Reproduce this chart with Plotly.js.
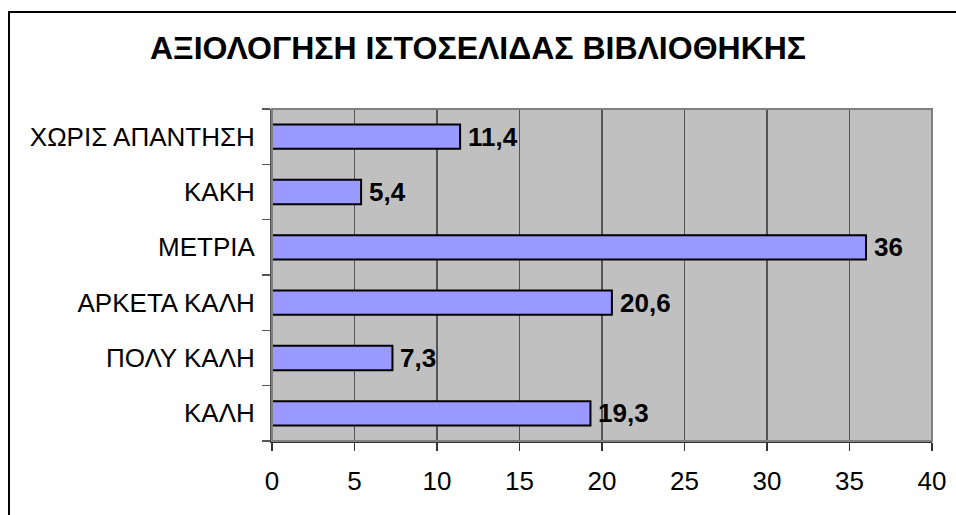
<!DOCTYPE html>
<html>
<head>
<meta charset="utf-8">
<script src="https://cdn.plot.ly/plotly-3.0.1.min.js"></script>
<style>
  html, body { margin: 0; padding: 0; background: #fff; overflow: hidden; }
  #chart { width: 956px; height: 515px; }
  /* outer frame of the original chart object */
  #frame { position: absolute; left: 8px; top: 11px; width: 1000px; height: 600px;
           border: 2px solid #000; pointer-events: none; }
</style>
</head>
<body>
<div id="chart"></div>
<div id="frame"></div>
<script>
// categories bottom -> top
const categories = ['ΚΑΛΗ', 'ΠΟΛΥ ΚΑΛΗ', 'ΑΡΚΕΤΑ ΚΑΛΗ', 'ΜΕΤΡΙΑ', 'ΚΑΚΗ', 'ΧΩΡΙΣ ΑΠΑΝΤΗΣΗ'];
const values = [19.3, 7.3, 20.6, 36, 5.4, 11.4];
const xTicks = [0, 5, 10, 15, 20, 25, 30, 35, 40];

const font = 'Liberation Sans, Arial, sans-serif';

const bars = {
    type: 'bar',
    orientation: 'h',
    x: values,
    y: categories,
    marker: { color: '#9999ff', line: { color: '#000', width: 2 } },
    width: 0.44,
    hoverinfo: 'none'
};

// value labels, Greek decimal comma
const labels = values.map((v, i) => ({
    x: v, y: categories[i], xref: 'x', yref: 'y',
    text: '<b>' + String(v).replace('.', ',') + '</b>',
    showarrow: false, xanchor: 'left', xshift: 6,
    font: { family: font, size: 26, color: '#000' }
}));

const layout = {
    width: 956, height: 515,
    margin: { l: 272, r: 24, t: 109, b: 74 },
    paper_bgcolor: '#fff',
    plot_bgcolor: '#c0c0c0',
    showlegend: false,
    title: {
        text: '<b>ΑΞΙΟΛΟΓΗΣΗ ΙΣΤΟΣΕΛΙΔΑΣ ΒΙΒΛΙΟΘΗΚΗΣ</b>',
        font: { family: font, size: 32, color: '#000' },
        x: 0.5, xanchor: 'center', y: 0.907, yanchor: 'middle', yref: 'container'
    },
    xaxis: {
        range: [0, 40], tickvals: xTicks, ticktext: xTicks.map(String),
        showgrid: true, gridcolor: '#555', gridwidth: 1.5,
        zeroline: false,
        showline: true, linecolor: '#333', linewidth: 2,
        ticks: 'outside', ticklen: 8, tickcolor: '#333', tickwidth: 1.5,
        ticklabelstandoff: 8,
        tickfont: { family: font, size: 26, color: '#000' },
        fixedrange: true
    },
    yaxis: {
        type: 'category', categoryorder: 'array', categoryarray: categories,
        range: [-0.5, 5.5],
        showgrid: false, zeroline: false,
        showline: true, linecolor: '#555', linewidth: 2,
        ticks: 'outside', tickson: 'boundaries', ticklen: 8, tickcolor: '#555', tickwidth: 1.5,
        ticklabelstandoff: 10,
        tickfont: { family: font, size: 26, color: '#000' },
        fixedrange: true
    },
    shapes: [
        { type: 'rect', xref: 'paper', yref: 'paper', x0: 0, x1: 1, y0: 0, y1: 1,
          line: { color: '#808080', width: 2 }, layer: 'above' }
    ],
    annotations: labels
};

Plotly.newPlot('chart', [bars], layout, { displayModeBar: false, staticPlot: true });
</script>
</body>
</html>
